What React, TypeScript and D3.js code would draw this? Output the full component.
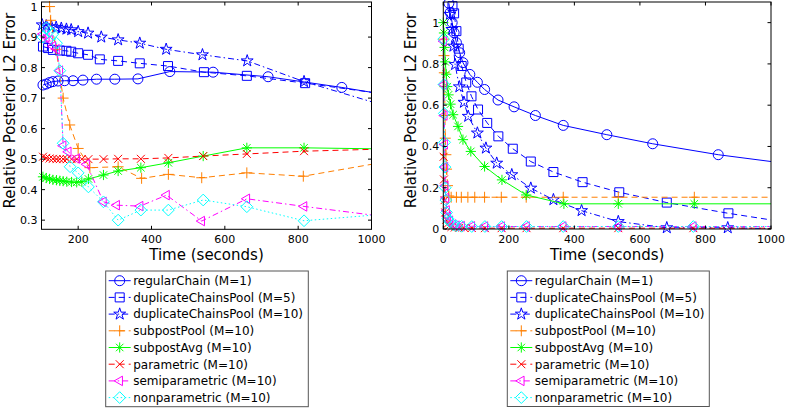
import React from 'react';
import * as d3 from 'd3';

// ---- left panel (time in seconds, relative posterior L2 error) ----
const leftRegularT = [104, 113, 122, 131, 145, 163, 186, 213, 250, 300, 363, 450, 568, 718, 919, 1000];
const leftRegularErr = [0.743, 0.746, 0.751, 0.754, 0.756, 0.757, 0.757, 0.759, 0.762, 0.762, 0.763, 0.787, 0.785, 0.77, 0.735, 0.719];

const leftDup5T = [104, 118, 131, 150, 168, 181, 200, 227, 259, 309, 368, 445, 543, 660, 819, 1000];
const leftDup5Err = [0.869, 0.864, 0.858, 0.856, 0.855, 0.852, 0.847, 0.842, 0.827, 0.822, 0.814, 0.805, 0.785, 0.773, 0.749, 0.719];

const leftDup10T = [102, 113, 127, 140, 154, 168, 181, 200, 227, 263, 309, 368, 440, 539, 661, 816, 1000];
const leftDup10Err = [0.94, 0.937, 0.934, 0.932, 0.929, 0.926, 0.924, 0.918, 0.913, 0.9, 0.891, 0.88, 0.86, 0.842, 0.822, 0.754, 0.688];

const leftPoolT = [122, 125, 140, 159, 177, 200, 232, 309, 373, 446, 537, 660, 814, 1000];
const leftPoolErr = [1.0, 0.955, 0.86, 0.7, 0.612, 0.535, 0.472, 0.475, 0.437, 0.45, 0.439, 0.455, 0.444, 0.483];

const leftAvgT = [104, 113, 122, 131, 141, 150, 159, 169, 182, 196, 210, 228, 269, 309, 371, 446, 541, 660, 816, 1000];
const leftAvgErr = [0.442, 0.438, 0.435, 0.432, 0.431, 0.429, 0.428, 0.426, 0.425, 0.424, 0.426, 0.435, 0.448, 0.461, 0.472, 0.488, 0.51, 0.537, 0.537, 0.534];

const leftParT = [104, 113, 122, 131, 141, 150, 159, 169, 182, 196, 210, 228, 269, 309, 371, 446, 541, 660, 816, 1000];
const leftParErr = [0.508, 0.504, 0.502, 0.501, 0.5, 0.5, 0.5, 0.5, 0.5, 0.5, 0.5, 0.5, 0.5, 0.501, 0.501, 0.504, 0.51, 0.517, 0.526, 0.532];

const leftSemiT = [104, 113, 122, 131, 141, 150, 159, 173, 196, 223, 269, 305, 369, 441, 537, 660, 816, 1000];
const leftSemiErr = [0.91, 0.9, 0.89, 0.87, 0.86, 0.79, 0.544, 0.524, 0.502, 0.483, 0.36, 0.349, 0.346, 0.382, 0.297, 0.37, 0.345, 0.317];

const leftNonparT = [104, 113, 122, 131, 141, 150, 159, 178, 200, 228, 269, 309, 371, 446, 541, 660, 816, 1000];
const leftNonparErr = [0.9, 0.93, 0.92, 0.91, 0.88, 0.79, 0.552, 0.475, 0.455, 0.409, 0.36, 0.3, 0.333, 0.333, 0.366, 0.344, 0.298, 0.316];

// ---- right panel ----
const rightRegularT = [17, 21, 27, 33, 40, 50, 60, 81, 104, 126, 167, 216, 281, 366, 499, 639, 839, 1000];
const rightRegularErr = [1.094, 1.049, 1.0, 0.951, 0.903, 0.854, 0.806, 0.749, 0.711, 0.676, 0.625, 0.592, 0.55, 0.502, 0.457, 0.413, 0.36, 0.327];

const rightDup5T = [28, 33, 40, 47, 56, 70, 86, 106, 134, 168, 212, 267, 336, 425, 537, 682, 870, 1000];
const rightDup5Err = [1.08, 1.045, 0.959, 0.874, 0.79, 0.71, 0.643, 0.579, 0.514, 0.449, 0.389, 0.327, 0.276, 0.227, 0.178, 0.128, 0.076, 0.044];

const rightDup10T = [20, 26, 31, 36, 49, 63, 76, 104, 130, 163, 209, 267, 336, 422, 534, 682, 868, 1000];
const rightDup10Err = [1.04, 0.967, 0.886, 0.797, 0.689, 0.614, 0.546, 0.465, 0.392, 0.319, 0.263, 0.198, 0.142, 0.089, 0.036, 0.006, 0.006, 0.002];

const rightPoolT = [1, 2, 3, 4, 5, 6, 8, 10, 13, 17, 24, 40, 55, 75, 96, 126, 177, 253, 366, 534, 766, 1000];
const rightPoolErr = [0.92, 0.84, 0.757, 0.69, 0.55, 0.44, 0.36, 0.29, 0.21, 0.16, 0.154, 0.154, 0.154, 0.154, 0.154, 0.154, 0.154, 0.154, 0.154, 0.154, 0.154, 0.154];

const rightAvgT = [0, 2, 4, 6, 9, 12, 16, 22, 30, 45, 60, 84, 126, 179, 253, 368, 534, 766, 1000];
const rightAvgErr = [1.0, 0.95, 0.88, 0.81, 0.75, 0.69, 0.65, 0.605, 0.554, 0.497, 0.433, 0.376, 0.303, 0.238, 0.165, 0.122, 0.122, 0.122, 0.122];

const rightParT = [1, 2, 4, 6, 9, 13, 18, 25, 35, 48, 64, 87, 127, 178, 254, 366, 534, 763, 1000];
const rightParErr = [0.35, 0.24, 0.14, 0.08, 0.045, 0.025, 0.015, 0.01, 0.007, 0.006, 0.005, 0.005, 0.004, 0.004, 0.004, 0.004, 0.004, 0.004, 0.004];

const rightSemiT = [1, 2, 3, 4, 5, 6, 8, 10, 14, 20, 30, 40, 56, 87, 127, 178, 254, 366, 534, 763, 1000];
const rightSemiErr = [0.91, 0.7, 0.55, 0.41, 0.3, 0.21, 0.15, 0.09, 0.06, 0.04, 0.022, 0.016, 0.014, 0.013, 0.012, 0.012, 0.012, 0.012, 0.012, 0.012, 0.012];

const rightNonparT = [1, 2, 3, 4, 5, 6, 8, 10, 14, 20, 30, 40, 56, 87, 127, 178, 254, 366, 534, 763, 1000];
const rightNonparErr = [0.92, 0.7, 0.56, 0.42, 0.3, 0.2, 0.14, 0.08, 0.05, 0.035, 0.02, 0.015, 0.013, 0.012, 0.012, 0.012, 0.012, 0.012, 0.012, 0.012, 0.012];

const leftXTicks = [200, 400, 600, 800, 1000];
const leftYTicks = [0.3, 0.4, 0.5, 0.6, 0.7, 0.8, 0.9, 1];
const rightXTicks = [0, 200, 400, 600, 800, 1000];
const rightYTicks = [0, 0.2, 0.4, 0.6, 0.8, 1];

const methodLabels = [
  'regularChain (M=1)',
  'duplicateChainsPool (M=5)',
  'duplicateChainsPool (M=10)',
  'subpostPool (M=10)',
  'subpostAvg (M=10)',
  'parametric (M=10)',
  'semiparametric (M=10)',
  'nonparametric (M=10)',
];

const leftData = [
  [leftRegularT, leftRegularErr],
  [leftDup5T, leftDup5Err],
  [leftDup10T, leftDup10Err],
  [leftPoolT, leftPoolErr],
  [leftAvgT, leftAvgErr],
  [leftParT, leftParErr],
  [leftSemiT, leftSemiErr],
  [leftNonparT, leftNonparErr],
];
const rightData = [
  [rightRegularT, rightRegularErr],
  [rightDup5T, rightDup5Err],
  [rightDup10T, rightDup10Err],
  [rightPoolT, rightPoolErr],
  [rightAvgT, rightAvgErr],
  [rightParT, rightParErr],
  [rightSemiT, rightSemiErr],
  [rightNonparT, rightNonparErr],
];

// look of each method (matlab-ish)
const styles = [
  { color: '#0000ff', dash: 'none', marker: 'circle' },
  { color: '#0000ff', dash: '6,4', marker: 'square' },
  { color: '#0000ff', dash: '6,3,1.5,3', marker: 'star' },
  { color: '#ff7f00', dash: '6,4', marker: 'plus' },
  { color: '#00ff00', dash: 'none', marker: 'asterisk' },
  { color: '#ff0000', dash: '6,4', marker: 'times' },
  { color: '#ff00ff', dash: '6,3,1.5,3', marker: 'triangle' },
  { color: '#00ffff', dash: '1.5,2.5', marker: 'diamond' },
];

const FONT = '"DejaVu Sans", Verdana, sans-serif';

function markerPath(kind: string): string {
  const sym = (type: d3.SymbolType, size: number) => d3.symbol(type, size)() || '';
  switch (kind) {
    case 'circle':
      return sym(d3.symbolCircle, Math.PI * 25);
    case 'square':
      return sym(d3.symbolSquare2, 103);
    case 'star':
      return sym(d3.symbolStar, 44);
    case 'plus':
      return sym(d3.symbolPlus, 41);
    case 'times':
      return sym(d3.symbolTimes, 43);
    case 'asterisk':
      return sym(d3.symbolPlus, 36) + sym(d3.symbolTimes, 38);
    case 'triangle':
      return sym(d3.symbolTriangle2, 65);
    case 'diamond':
      return sym(d3.symbolDiamond2, 88);
  }
  return '';
}

const Marker = ({ kind, x, y, color }: { kind: string; x: number; y: number; color: string }) => (
  <path
    d={markerPath(kind)}
    transform={`translate(${x},${y})${kind === 'triangle' ? ' rotate(-90)' : ''}`}
    fill="none"
    stroke={color}
    strokeWidth={1}
  />
);

interface PanelProps {
  id: string;
  left: number;
  right: number;
  top: number;
  bottom: number;
  xDomain: [number, number];
  yDomain: [number, number];
  xTicks: number[];
  yTicks: number[];
  data: number[][][];
}

const Panel = ({ id, left, right, top, bottom, xDomain, yDomain, xTicks, yTicks, data }: PanelProps) => {
  const x = d3.scaleLinear().domain(xDomain).range([left, right]);
  const y = d3.scaleLinear().domain(yDomain).range([bottom, top]);
  const line = d3
    .line<[number, number]>()
    .x((d) => x(d[0]))
    .y((d) => y(d[1]));
  const fmt = (v: number) => String(Math.round(v * 10) / 10);
  const tl = 3.5;

  return (
    <g>
      <defs>
        <clipPath id={id}>
          <rect x={left} y={top} width={right - left} height={bottom - top} />
        </clipPath>
      </defs>
      <rect x={left} y={top} width={right - left} height={bottom - top} fill="#fff" />

      {data.map(([ts, es], i) => {
        const st = styles[i];
        const pts = ts.map((t, k) => [t, es[k]] as [number, number]);
        return (
          <g key={i}>
            <path
              d={line(pts) || ''}
              fill="none"
              stroke={st.color}
              strokeWidth={1}
              strokeDasharray={st.dash}
              clipPath={`url(#${id})`}
            />
            {pts
              .filter((p) => p[0] < xDomain[1] && p[1] <= yDomain[1] + 0.01)
              .map((p, k) => (
                <Marker key={k} kind={st.marker} x={x(p[0])} y={y(p[1])} color={st.color} />
              ))}
          </g>
        );
      })}

      {/* frame and inward ticks */}
      <rect x={left} y={top} width={right - left} height={bottom - top} fill="none" stroke="#000" strokeWidth={1} />
      {xTicks.map((t) => (
        <g key={'x' + t}>
          <line x1={x(t)} x2={x(t)} y1={bottom} y2={bottom - tl} stroke="#000" />
          <line x1={x(t)} x2={x(t)} y1={top} y2={top + tl} stroke="#000" />
          <text x={x(t)} y={bottom + 13.8} textAnchor="middle" fontSize={11} fontFamily={FONT}>
            {t}
          </text>
        </g>
      ))}
      {yTicks.map((t) => (
        <g key={'y' + t}>
          <line x1={left} x2={left + tl} y1={y(t)} y2={y(t)} stroke="#000" />
          <line x1={right} x2={right - tl} y1={y(t)} y2={y(t)} stroke="#000" />
          <text x={left - 4} y={y(t)} dy="0.36em" textAnchor="end" fontSize={11} fontFamily={FONT}>
            {fmt(t)}
          </text>
        </g>
      ))}
      <text x={(left + right) / 2} y={bottom + 30.5} textAnchor="middle" fontSize={15} fontFamily={FONT}>
        Time (seconds)
      </text>
      <text
        transform={`translate(${left - 27},${(top + bottom) / 2 - 5}) rotate(-90)`}
        textAnchor="middle"
        fontSize={15}
        fontFamily={FONT}
      >
        Relative Posterior L2 Error
      </text>
    </g>
  );
};

const Legend = ({ x, y, w, h }: { x: number; y: number; w: number; h: number }) => (
  <g>
    <rect x={x} y={y} width={w} height={h} fill="#fff" stroke="#555" strokeWidth={1} />
    {methodLabels.map((label, i) => {
      const st = styles[i];
      const cy = y + 9.7 + i * 16.7;
      return (
        <g key={label}>
          <line x1={x + 3} x2={x + 25} y1={cy} y2={cy} stroke={st.color} strokeDasharray={st.dash} />
          <Marker kind={st.marker} x={x + 14} y={cy} color={st.color} />
          <text x={x + 27.5} y={cy + 4.3} fontSize={12} fontFamily={FONT}>
            {label}
          </text>
        </g>
      );
    })}
  </g>
);

export default function App() {
  return (
    <svg width={789} height={408} style={{ position: 'absolute', left: 0, top: 0, background: '#fff' }}>
      <Panel
        id="clipL"
        left={41.5}
        right={371.5}
        top={2}
        bottom={229.3}
        xDomain={[100, 1000]}
        yDomain={[0.27, 1.015]}
        xTicks={leftXTicks}
        yTicks={leftYTicks}
        data={leftData}
      />
      <Panel
        id="clipR"
        left={443.3}
        right={771}
        top={2}
        bottom={229}
        xDomain={[0, 1000]}
        yDomain={[0, 1.1]}
        xTicks={rightXTicks}
        yTicks={rightYTicks}
        data={rightData}
      />
      <Legend x={105.7} y={271} w={202.6} h={135.7} />
      <Legend x={507.3} y={271} w={202} h={135.5} />
    </svg>
  );
}
